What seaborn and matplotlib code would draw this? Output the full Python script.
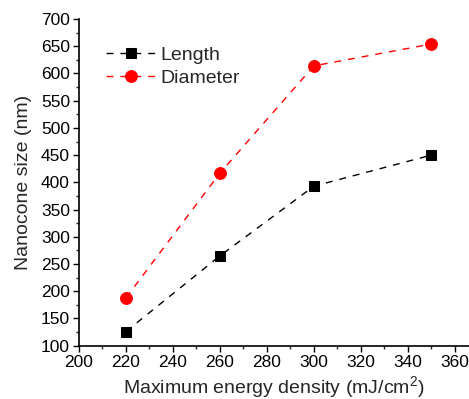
"""Nanocone size vs maximum energy density."""

import matplotlib
matplotlib.use("Agg")
import matplotlib.pyplot as plt
import numpy as np
import pandas as pd
import seaborn as sns
from matplotlib.ticker import MultipleLocator

energy_density = [220, 260, 300, 350]
length_nm = [126, 265, 393, 450]
diameter_nm = [188, 417, 614, 654]

sns.set_theme(style="ticks")
plt.rcParams["font.family"] = ["Liberation Sans", "DejaVu Sans"]
plt.rcParams["mathtext.fontset"] = "custom"
plt.rcParams["mathtext.rm"] = "Liberation Sans"
plt.rcParams["mathtext.it"] = "Liberation Sans:italic"

df = pd.DataFrame({
    "energy": energy_density * 2,
    "size": length_nm + diameter_nm,
    "series": ["Length"] * 4 + ["Diameter"] * 4,
})

fig = plt.figure(figsize=(4.69, 3.99), dpi=100)
ax = fig.add_axes([0.1684, 0.1336, 0.8316, 0.8188])

styles = {
    "Length": dict(color="black", marker="s", markersize=7.5),
    "Diameter": dict(color="red", marker="o", markersize=8.5),
}
for name, sub in df.groupby("series", sort=False):
    st = styles[name]
    sns.lineplot(
        data=sub, x="energy", y="size", ax=ax, label=name,
        color=st["color"], marker=st["marker"], markersize=st["markersize"],
        markeredgecolor=st["color"], linestyle=(0, (5, 5)), linewidth=1.0,
    )

ax.set_xlim(200, 366)
ax.set_ylim(100, 700)
ax.xaxis.set_major_locator(MultipleLocator(20))
ax.xaxis.set_minor_locator(MultipleLocator(10))
ax.yaxis.set_major_locator(MultipleLocator(50))
ax.yaxis.set_minor_locator(MultipleLocator(25))
ax.tick_params(which="major", direction="out", length=4.5, width=1.0,
               labelsize=12.5, colors="black", pad=2)
ax.tick_params(which="minor", direction="out", length=2.5, width=1.0)

sns.despine(ax=ax)
for side in ("left", "bottom"):
    ax.spines[side].set_linewidth(1.2)
    ax.spines[side].set_color("black")

ax.set_xlabel("Maximum energy density (mJ/cm$^2$)", fontsize=14, labelpad=3)
ax.set_ylabel("Nanocone size (nm)", fontsize=14, labelpad=6)

ax.legend(loc="upper left", bbox_to_anchor=(0.069, 0.917), frameon=False,
          fontsize=14, handlelength=2.55, handletextpad=0.25,
          borderpad=0, borderaxespad=0, labelspacing=0.3)

fig.savefig("out.png", dpi=100)
